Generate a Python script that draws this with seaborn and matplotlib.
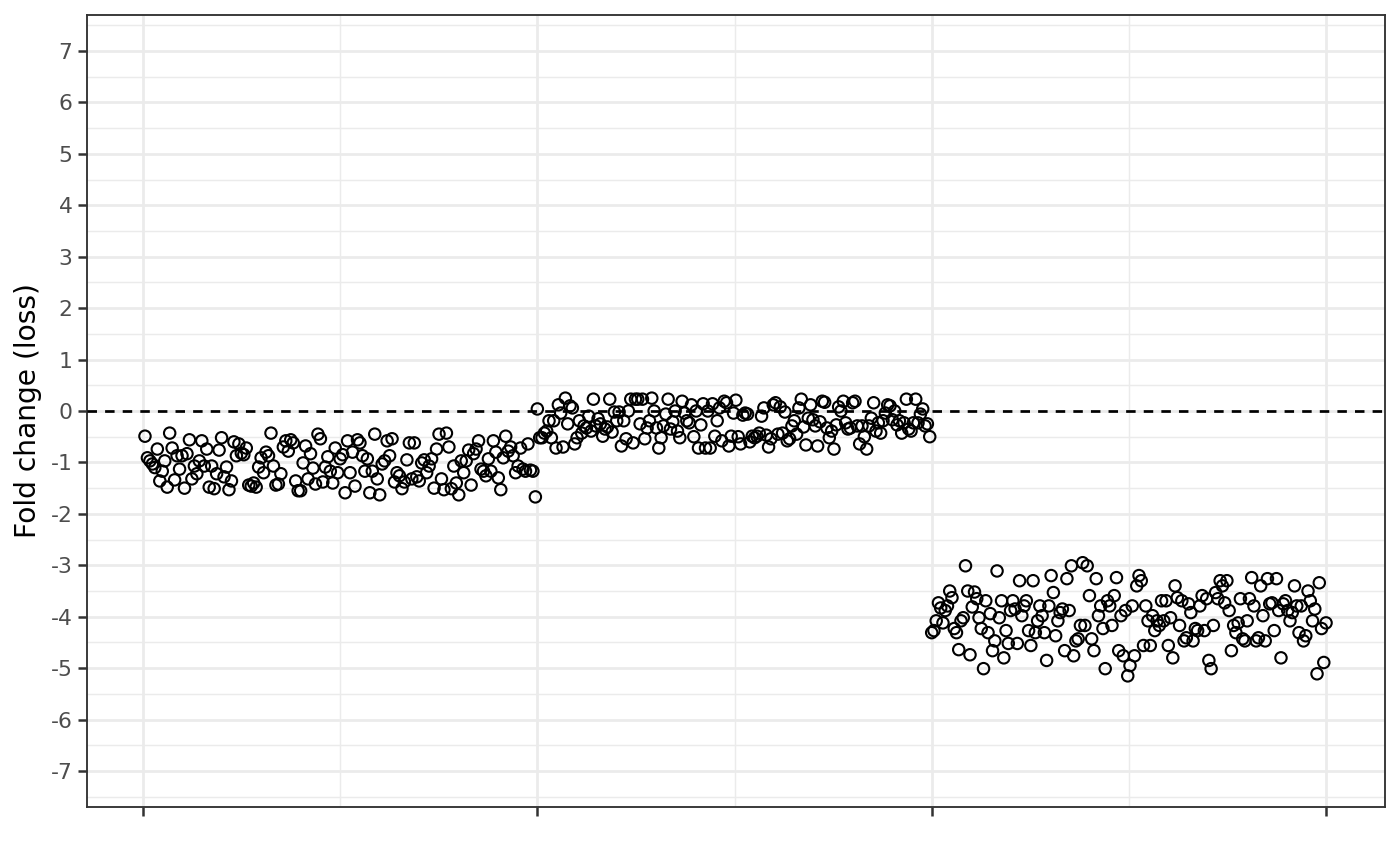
import numpy as np
import pandas as pd
import matplotlib
matplotlib.use("Agg")
import matplotlib.pyplot as plt
import seaborn as sns

# Fold-change values, left to right, per segment
seg1_values = [-0.49, -0.91, -0.97, -1.03, -1.10, -0.74, -1.36, -1.17, -0.97, -1.48,
               -0.43, -0.72, -1.34, -0.87, -1.13, -0.87, -1.50, -0.83, -0.56, -1.32,
               -1.07, -1.22, -0.97, -0.58, -1.07, -0.74, -1.48, -1.07, -1.51, -1.22,
               -0.76, -0.52, -1.28, -1.09, -1.53, -1.36, -0.60, -0.87, -0.64, -0.82,
               -0.85, -0.72, -1.44, -1.46, -1.40, -1.48, -1.09, -0.91, -1.20, -0.80,
               -0.87, -0.43, -1.07, -1.44, -1.42, -1.22, -0.70, -0.58, -0.78, -0.56,
               -0.62, -1.36, -1.55, -1.55, -1.01, -0.68, -1.32, -0.83, -1.11, -1.42,
               -0.45, -0.54, -1.38, -1.09, -0.89, -1.17, -1.40, -0.72, -1.20, -0.93,
               -0.85, -1.59, -0.58, -1.20, -0.80, -1.46, -0.56, -0.62, -0.87, -1.17,
               -0.93, -1.59, -1.17, -0.45, -1.32, -1.63, -1.03, -0.97, -0.58, -0.87,
               -0.54, -1.38, -1.20, -1.26, -1.51, -1.38, -0.95, -0.62, -1.32, -0.62,
               -1.28, -1.36, -1.01, -0.95, -1.20, -1.07, -0.93, -1.50, -0.74, -0.45,
               -1.32, -1.53, -0.43, -0.70, -1.51, -1.07, -1.40, -1.63, -0.97, -1.20,
               -0.97, -0.76, -1.44, -0.83, -0.74, -0.58, -1.13, -1.17, -1.26, -0.93,
               -1.17, -0.58, -0.80, -1.30, -1.53, -0.91, -0.49, -0.78, -0.70, -0.87,
               -1.20, -1.07, -0.72, -1.13, -1.17, -0.64, -1.15, -1.17, -1.67]

seg2_values = [0.04, -0.52, -0.52, -0.43, -0.39, -0.19, -0.52, -0.19, -0.72, 0.12,
               -0.04, -0.70, 0.25, -0.25, 0.10, 0.06, -0.64, -0.52, -0.19, -0.43,
               -0.29, -0.33, -0.10, -0.39, 0.23, -0.29, -0.15, -0.25, -0.49, -0.35,
               -0.31, 0.23, -0.41, -0.02, -0.19, -0.02, -0.68, -0.19, -0.54, 0.00,
               0.23, -0.62, 0.23, 0.23, -0.25, 0.23, -0.54, -0.33, -0.19, 0.25,
               0.00, -0.33, -0.72, -0.52, -0.29, -0.06, 0.23, -0.35, -0.21, 0.00,
               -0.39, -0.52, 0.19, -0.04, -0.19, -0.23, 0.12, -0.50, 0.00, -0.72,
               -0.27, 0.14, -0.72, 0.00, -0.72, 0.14, -0.49, -0.19, 0.06, -0.58,
               0.19, 0.16, -0.68, -0.49, -0.04, 0.21, -0.50, -0.64, -0.08, -0.04,
               -0.06, -0.60, -0.49, -0.52, -0.49, -0.43, -0.10, 0.06, -0.47, -0.70,
               -0.54, 0.12, 0.16, -0.45, 0.08, -0.43, -0.02, -0.58, -0.54, -0.29,
               -0.19, -0.45, 0.06, 0.23, -0.31, -0.66, -0.14, 0.12, -0.17, -0.29,
               -0.68, -0.21, 0.19, 0.17, -0.33, -0.52, -0.39, -0.74, -0.27, 0.08,
               0.00, 0.19, -0.23, -0.35, -0.33, 0.16, 0.19, -0.29, -0.64, -0.29,
               -0.50, -0.74, -0.29, -0.14, 0.16, -0.39, -0.23, -0.43, -0.19, -0.04,
               0.12, 0.10, -0.17, 0.00, -0.27, -0.19, -0.43, -0.23, 0.23, -0.35,
               -0.39, -0.23, 0.23, -0.23, -0.06, 0.04, -0.29, -0.25, -0.50]

seg3_values = [-4.31, -4.27, -4.08, -3.73, -3.83, -4.12, -3.88, -3.79, -3.50, -3.63,
               -4.23, -4.31, -4.64, -4.08, -4.02, -3.01, -3.50, -4.74, -3.81, -3.52,
               -3.65, -4.02, -4.23, -5.01, -3.69, -4.31, -3.94, -4.66, -4.47, -3.11,
               -4.02, -3.69, -4.80, -4.27, -4.52, -3.88, -3.69, -3.85, -4.52, -3.30,
               -3.98, -3.79, -3.69, -4.27, -4.56, -3.30, -4.31, -4.08, -3.79, -3.98,
               -4.31, -4.85, -3.79, -3.20, -3.53, -4.37, -4.08, -3.92, -3.85, -4.66,
               -3.26, -3.88, -3.01, -4.76, -4.47, -4.43, -4.17, -2.95, -4.17, -3.01,
               -3.59, -4.43, -4.66, -3.26, -3.98, -3.79, -4.23, -5.01, -3.69, -3.79,
               -4.17, -3.59, -3.24, -4.66, -3.98, -4.76, -3.88, -5.15, -4.95, -3.79,
               -4.76, -3.40, -3.20, -3.30, -4.56, -3.79, -4.08, -4.56, -3.98, -4.27,
               -4.08, -4.17, -3.69, -4.08, -3.69, -4.56, -4.02, -4.80, -3.40, -3.63,
               -4.17, -3.69, -4.47, -4.41, -3.75, -3.92, -4.47, -4.23, -4.27, -3.79,
               -3.59, -4.27, -3.65, -4.85, -5.01, -4.17, -3.53, -3.65, -3.30, -3.40,
               -3.73, -3.30, -3.88, -4.66, -4.17, -4.31, -4.12, -3.65, -4.43, -4.47,
               -4.08, -3.65, -3.24, -3.79, -4.47, -4.41, -3.40, -3.98, -4.47, -3.26,
               -3.75, -3.73, -4.27, -3.26, -3.88, -4.80, -3.75, -3.69, -3.88, -4.08,
               -3.92, -3.40, -3.79, -4.31, -3.79, -4.47, -4.37, -3.50, -3.69, -4.08,
               -3.85, -5.11, -3.34, -4.23, -4.89, -4.12]

segment_starts = [1, 200, 400]
segment_ends = [199, 399, 600]
x_ticks = [0, 200, 400, 600]
y_ticks = list(range(-7, 8))
y_label = "Fold change (loss)"

frames = []
for vals, a, b in zip([seg1_values, seg2_values, seg3_values], segment_starts, segment_ends):
    frames.append(pd.DataFrame({"pos": np.linspace(a, b, len(vals)), "fc": vals}))
df = pd.concat(frames, ignore_index=True)

sns.set_theme(style="white")
plt.rcParams["font.family"] = ["DejaVu Sans"]
plt.rcParams["axes.unicode_minus"] = False

fig = plt.figure(figsize=(1400 / 150, 865 / 150), dpi=150)
ax = fig.add_axes([87 / 1400, 1 - 807 / 865, (1385 - 87) / 1400, (807 - 15) / 865])

sns.scatterplot(data=df, x="pos", y="fc", ax=ax, marker="o", s=30,
                facecolor="none", edgecolor="black", linewidth=1.0, zorder=3)

ax.axhline(0, color="black", lw=1.3, ls=(0, (3.5, 3)), zorder=4)

ax.set_xlim(-28.4, 629.9)
ax.set_ylim(-7.7, 7.7)
ax.set_xticks(x_ticks)
ax.set_xticklabels([])
ax.set_xticks([100, 300, 500], minor=True)
ax.set_yticks(y_ticks)
ax.set_yticklabels([str(t) for t in y_ticks])
ax.set_yticks(np.arange(-7.5, 8, 1.0), minor=True)

ax.grid(which="major", color="#EBEBEB", lw=1.3, zorder=0)
ax.grid(which="minor", color="#EBEBEB", lw=0.7, zorder=0)
ax.set_axisbelow(True)

ax.tick_params(axis="both", which="major", length=4.5, width=1.2, color="#333333",
               labelsize=10.5, labelcolor="#4D4D4D", pad=2.5, direction="out",
               bottom=True, left=True)
ax.tick_params(axis="both", which="minor", length=0)

for s in ax.spines.values():
    s.set_color("#333333")
    s.set_linewidth(0.9)

ax.set_xlabel("")
ax.set_ylabel(y_label, fontsize=13.5, color="black", labelpad=4)

fig.savefig("out.png", dpi=150)
